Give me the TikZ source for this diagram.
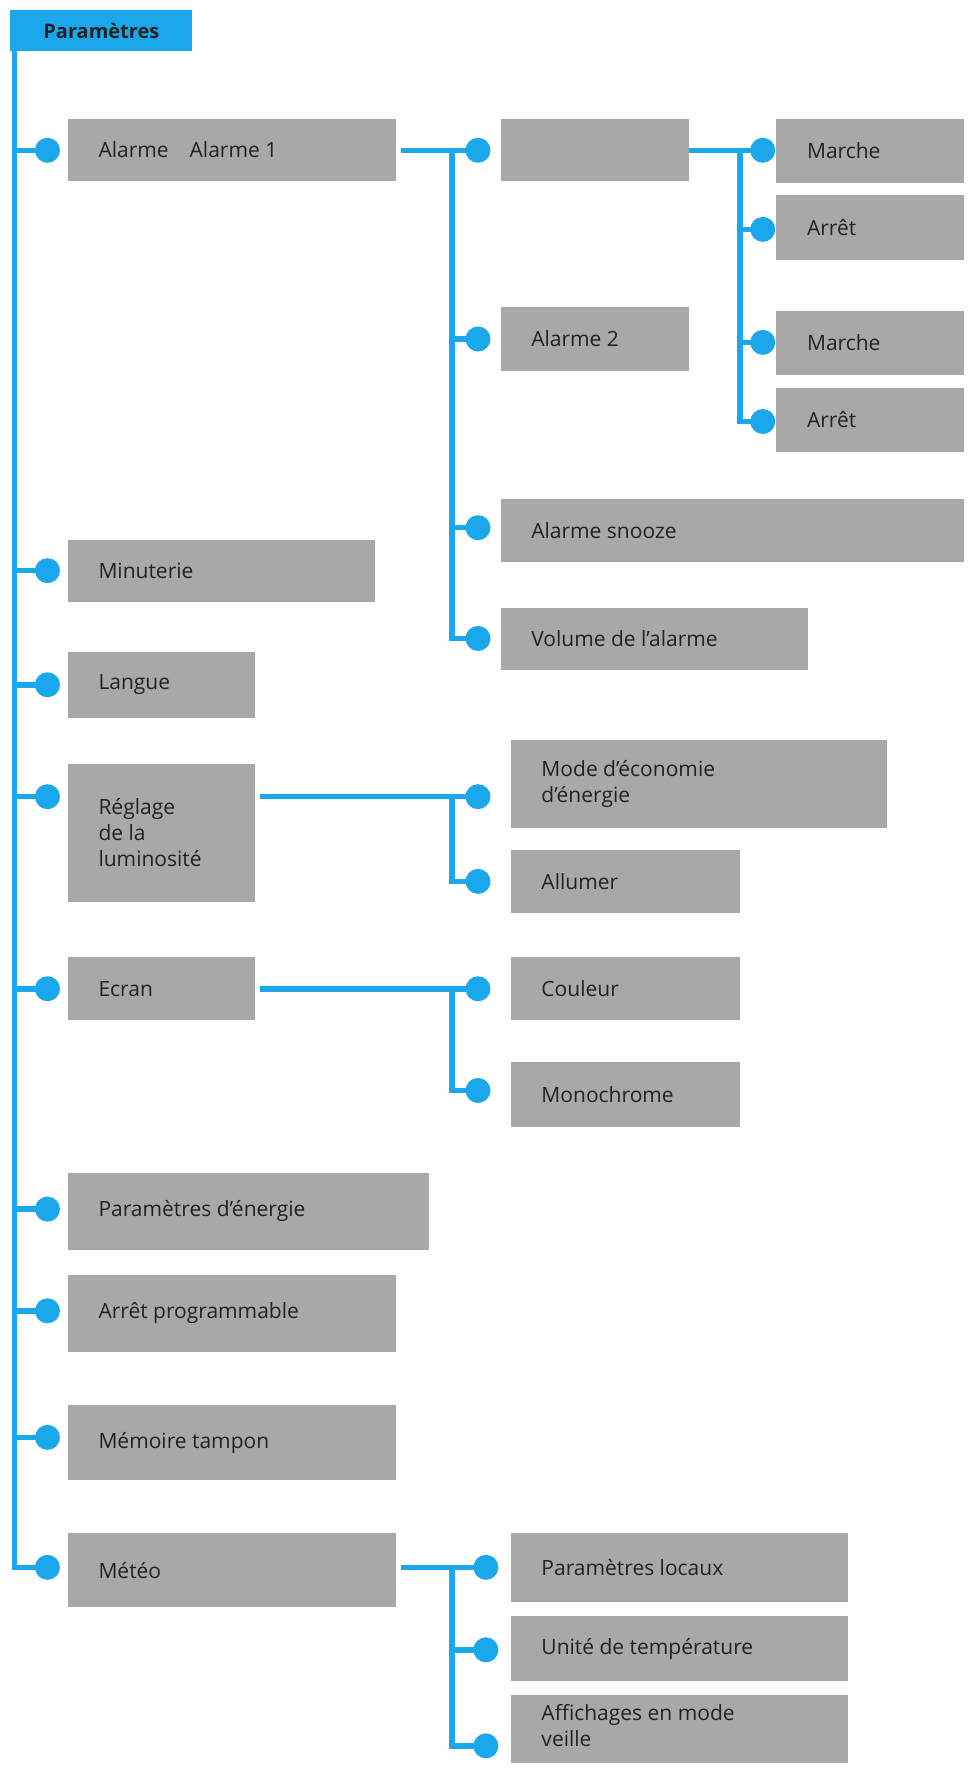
\documentclass[tikz,border=0pt]{standalone}
\usepackage{fontspec}
\setmainfont{Open Sans}
\definecolor{bl}{HTML}{1AA7EC}
\definecolor{gr}{HTML}{A8A8A6}
\definecolor{tx}{HTML}{222222}
\begin{document}
\begin{tikzpicture}[x=1.13pt,y=-1.13pt,
 ln/.style={draw=bl,line width=5.5pt},
 dot/.style={circle,fill=bl,minimum size=25pt,inner sep=0pt},
 bx/.style={fill=gr,text=tx,font=\fontsize{21}{26}\selectfont}]
\useasboundingbox (0,0) rectangle (861,1569);
\newcommand\bxx[5]{\fill[gr] (#2,#3) rectangle (#4,#5);
 \node[anchor=west,text=tx,font=\fontsize{21}{26}\selectfont,align=left,inner sep=0pt] (#1) at (#2+28,{(#3+#5)/2}) {\strut};}
\newcommand\lbl[3]{\node[anchor=west,text=tx,font=\fontsize{21}{25}\selectfont,align=left,inner sep=0pt] at (#1) {#2};}
% header
\node[fill=bl,text=tx,font=\bfseries\fontsize{20}{24}\selectfont,minimum width=182pt*1.13/1.13,anchor=north west,minimum height=36*1.13pt,inner sep=0pt] (hd) at (9,9) {Paramètres};
% main line
\draw[ln] (13,45) |- (42,1387);
% boxes
\def\B#1#2#3#4#5#6{\fill[gr] (#2,#3) rectangle (#4,#5);
 \coordinate (#1) at (#2,{(#3+#5)/2});
 \node[anchor=west,text=tx,font=\fontsize{21}{26}\selectfont,align=left,inner sep=0pt] at (#2+27,{(#3+#5)/2}) {#6};}
\B{a1}{60}{105}{350}{160}{Alarme\quad Alarme 1}
\B{mi}{60}{478}{332}{533}{Minuterie}
\B{la}{60}{577}{226}{635}{Langue}
\B{rg}{60}{676}{226}{798}{Réglage\\de la\\luminosité}
\B{ec}{60}{847}{226}{903}{Ecran}
\B{pe}{60}{1038}{380}{1106}{Paramètres d'énergie}
\B{ap}{60}{1128}{350}{1196}{Arrêt programmable}
\B{mt}{60}{1243}{350}{1310}{Mémoire tampon}
\B{me}{60}{1357}{350}{1422}{Météo}
\B{em}{443}{105}{610}{160}{}
\B{a2}{443}{272}{610}{328}{Alarme 2}
\B{sn}{443}{442}{853}{497}{Alarme snooze}
\B{vo}{443}{538}{715}{593}{Volume de l'alarme}
\B{m1}{687}{105}{853}{162}{Marche}
\B{r1}{687}{173}{853}{230}{Arrêt}
\B{m2}{687}{275}{853}{332}{Marche}
\B{r2}{687}{343}{853}{400}{Arrêt}
\B{md}{452}{655}{785}{733}{Mode d'économie\\d'énergie}
\B{al}{452}{752}{655}{808}{Allumer}
\B{co}{452}{847}{655}{903}{Couleur}
\B{mo}{452}{940}{655}{997}{Monochrome}
\B{pl}{452}{1357}{750}{1418}{Paramètres locaux}
\B{un}{452}{1430}{750}{1488}{Unité de température}
\fill[gr] (452,1500) rectangle (750,1560);
\coordinate (af) at (452,1545);
\node[anchor=north west,text=tx,font=\fontsize{21}{26}\selectfont,align=left,inner sep=0pt] at (479,1508) {Affichages en mode\\veille};
% dots on main
\foreach \n/\y in {a1/133,mi/505,la/606,rg/705,ec/875,pe/1070,ap/1160,mt/1272,me/1387}
 {\draw[ln] (13,\y) -- (42,\y); \node[dot] (d\n) at (42,\y) {};}
% alarm subtree
\draw[ln] (a1.east|-0,133) ++(355,0) -- (400,133);
\draw[ln] (355,133) -- (423,133);
\draw[ln] (400,133) |- (423,565);
\foreach \y in {133,300,467,565} {\draw[ln] (400,\y) -- (423,\y); \node[dot] at (423,\y) {};}
\draw[ln] (610,133) -- (675,133);
\draw[ln] (655,133) |- (675,373);
\foreach \y in {133,203,303,373} {\draw[ln] (655,\y) -- (675,\y); \node[dot] at (675,\y) {};}
% reglage
\draw[ln] (230,705) -- (423,705);
\draw[ln] (400,705) |- (423,780);
\node[dot] at (423,705) {}; \node[dot] at (423,780) {};
% ecran
\draw[ln] (230,875) -- (423,875);
\draw[ln] (400,875) |- (423,965);
\node[dot] at (423,875) {}; \node[dot] at (423,965) {};
% meteo
\draw[ln] (355,1387) -- (430,1387);
\draw[ln] (400,1387) |- (430,1545);
\draw[ln] (400,1460) -- (430,1460);
\foreach \y in {1387,1460,1545} \node[dot] at (430,\y) {};
\end{tikzpicture}
\end{document}
